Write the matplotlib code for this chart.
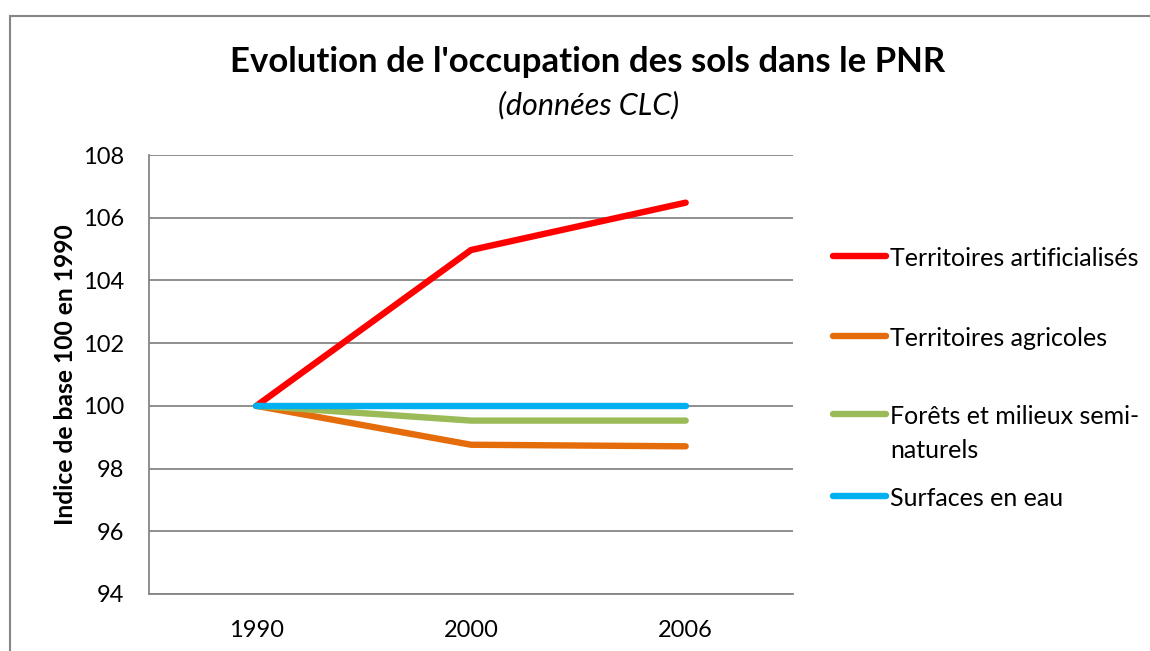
import matplotlib
matplotlib.use("Agg")
import matplotlib.pyplot as plt
from matplotlib.lines import Line2D
from matplotlib.patches import Rectangle

plt.rcParams['font.family'] = ['Lato', 'DejaVu Sans']

years = ["1990", "2000", "2006"]
series_names = ["Territoires artificialisés", "Territoires agricoles",
                "Forêts et milieux semi-\nnaturels", "Surfaces en eau"]
artificialises = [100.0, 104.97, 106.48]
agricoles = [100.0, 98.76, 98.71]
forets = [100.0, 99.53, 99.53]
eau = [100.0, 100.0, 100.0]
colors = ["#FF0000", "#E46C0A", "#9BBB59", "#00B0F0"]
yticks = [94, 96, 98, 100, 102, 104, 106, 108]

W, H = 1150, 651
fig = plt.figure(figsize=(W / 100, H / 100), dpi=100)
ax = fig.add_axes([149 / W, 1 - 594 / H, (793 - 149) / W, (594 - 155) / H])

grid_c = "#868686"
x = list(range(len(years)))
for vals, c in zip([artificialises, agricoles, forets, eau], colors):
    ax.plot(x, vals, color=c, lw=4.6, solid_capstyle='round', solid_joinstyle='round', zorder=3)

ax.set_xlim(-0.5, len(years) - 0.5)
ax.set_ylim(94, 108)
ax.set_yticks(yticks)
ax.set_xticks(x)
ax.set_xticklabels(years)
ax.tick_params(axis='both', length=0, labelsize=17)
ax.tick_params(axis='y', pad=18)
ax.tick_params(axis='x', pad=19)
ax.yaxis.grid(True, color=grid_c, lw=1.3)
ax.set_axisbelow(True)
for s in ['top', 'right']:
    ax.spines[s].set_visible(False)
for s in ['left', 'bottom']:
    ax.spines[s].set_color(grid_c)
    ax.spines[s].set_linewidth(1.3)

ax.set_ylabel("Indice de base 100 en 1990", fontsize=17.7, fontweight='bold', labelpad=4)

fig.text(588 / W, 1 - 62 / H, "Evolution de l'occupation des sols dans le PNR",
         ha='center', va='center', fontsize=25, fontweight='bold')
fig.text(589 / W, 1 - 105 / H, "(données CLC)", ha='center', va='center',
         fontsize=22, style='italic')

# legend
leg_y = [256, 336, 414, 496]
for name, c, yy in zip(series_names, colors, leg_y):
    fy = 1 - yy / H
    fig.add_artist(Line2D([833 / W, 886 / W], [fy, fy], transform=fig.transFigure,
                          color=c, lw=4.6, solid_capstyle='round'))
    fig.text(890 / W, fy + 9 / H, name, ha='left', va='top', fontsize=18, linespacing=1.6)

# outer border
fig.add_artist(Rectangle((10 / W, -0.1), 1.2, 1 - 16 / H + 0.1, transform=fig.transFigure,
                         fill=False, edgecolor=grid_c, lw=1.5))

fig.savefig("out.png", dpi=100)
